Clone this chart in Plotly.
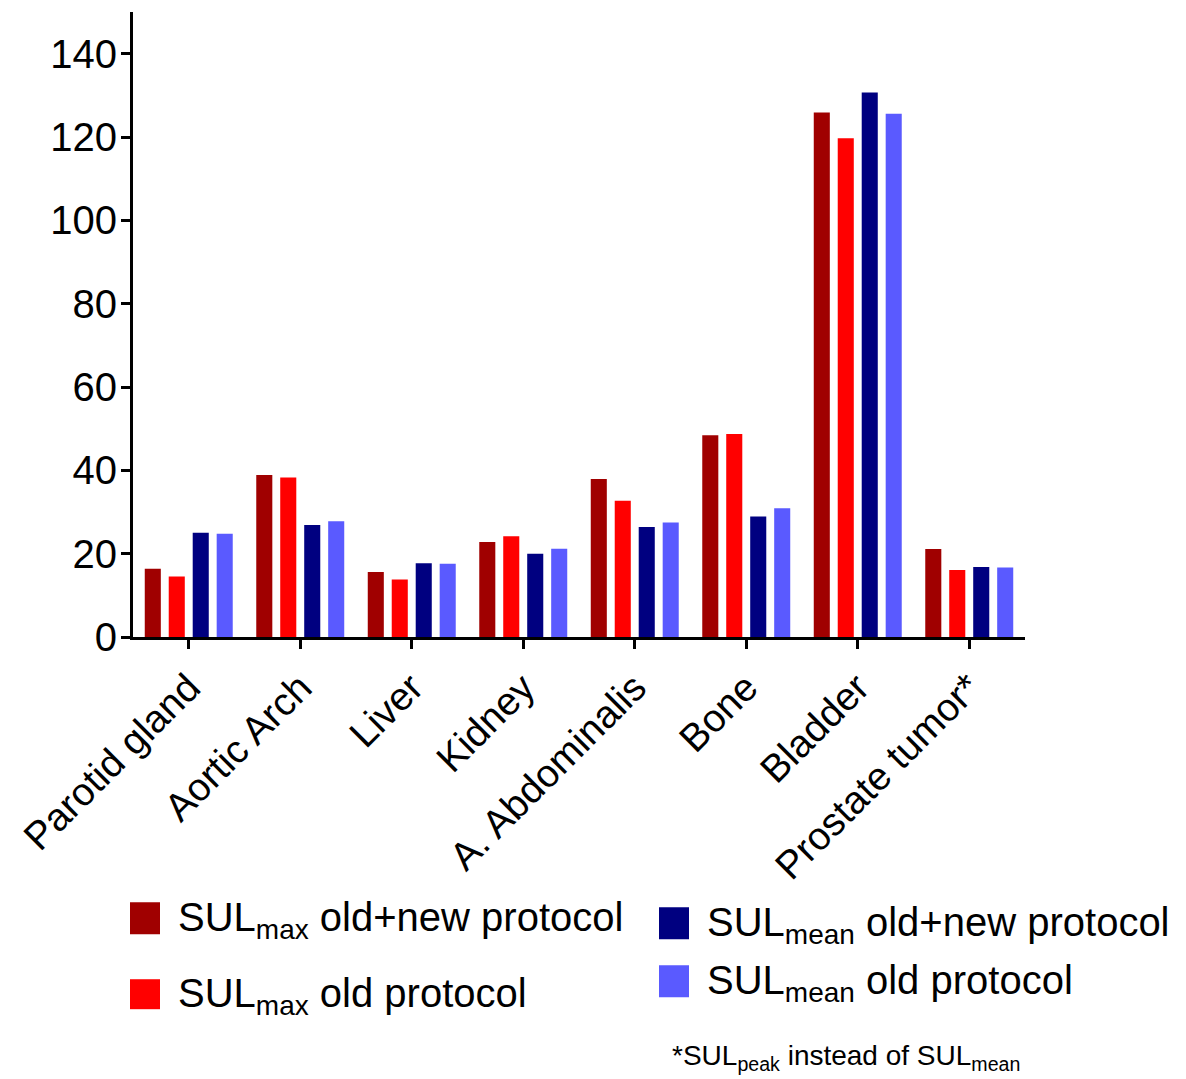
import plotly.graph_objects as go

categories = ["Parotid gland", "Aortic Arch", "Liver", "Kidney",
              "A. Abdominalis", "Bone", "Bladder", "Prostate tumor*"]
sulmax_oldnew = [16.4, 38.9, 15.6, 22.8, 37.9, 48.4, 125.9, 21.1]
sulmax_old = [14.5, 38.3, 13.8, 24.2, 32.7, 48.7, 119.7, 16.1]
sulmean_oldnew = [25.0, 26.9, 17.7, 20.0, 26.4, 28.9, 130.7, 16.8]
sulmean_old = [24.8, 27.8, 17.6, 21.2, 27.5, 30.9, 125.6, 16.7]

series_names = ["SUL<sub>max</sub> old+new protocol", "SUL<sub>max</sub> old protocol",
                "SUL<sub>mean</sub> old+new protocol", "SUL<sub>mean</sub> old protocol"]
series_values = [sulmax_oldnew, sulmax_old, sulmean_oldnew, sulmean_old]
colors = ["#A00000", "#FF0000", "#000080", "#5A5AFF"]
y_ticks = [0, 20, 40, 60, 80, 100, 120, 140]
footnote = "*SUL<sub>peak</sub> instead of SUL<sub>mean</sub>"

FONT = "Liberation Sans, Arial, sans-serif"
OFF = 8  # page body margin
W, H = 1186 - OFF, 1079 - OFF
L, R, T, B = 133 - OFF, 1025 - OFF, 12 - OFF, 637.5 - OFF

fig = go.Figure()
for name, vals, col in zip(series_names, series_values, colors):
    fig.add_trace(go.Bar(x=categories, y=vals, name=name, marker_color=col,
                         marker_line_width=0, showlegend=False))

def px2paper(x, y):
    x -= OFF
    y -= OFF
    return (x - L) / (R - L), (B - y) / (B - T)

shapes = []
annotations = []
legend_items = [
    (130, 903, 935, 176, 0),
    (130, 980, 1010, 176, 1),
    (659, 908, 940, 705, 2),
    (659, 966, 998, 705, 3),
]
for sx, sy0, sy1, tx, i in legend_items:
    x0, y0 = px2paper(sx, sy1)
    x1, y1 = px2paper(sx + 30, sy0)
    shapes.append(dict(type="rect", xref="paper", yref="paper", x0=x0, x1=x1, y0=y0, y1=y1,
                       fillcolor=colors[i], line=dict(width=0)))
    ax, ay = px2paper(tx, (sy0 + sy1) / 2 + 2)
    annotations.append(dict(xref="paper", yref="paper", x=ax, y=ay, xanchor="left",
                            yanchor="middle", showarrow=False, text=series_names[i],
                            font=dict(family=FONT, size=40, color="black")))
fx, fy = px2paper(670, 1058)
annotations.append(dict(xref="paper", yref="paper", x=fx, y=fy, xanchor="left",
                        yanchor="middle", showarrow=False, text=footnote,
                        font=dict(family=FONT, size=28, color="black")))

fig.update_layout(
    width=W, height=H,
    margin=dict(l=L, r=W - R, t=T, b=H - B, pad=0),
    plot_bgcolor="white", paper_bgcolor="white",
    barmode="group", bargap=0.14, bargroupgap=0.33,
    font=dict(family=FONT, color="black"),
    shapes=shapes, annotations=annotations,
    xaxis=dict(showline=True, linecolor="black", linewidth=3, ticks="outside",
               ticklen=9, tickwidth=3, tickcolor="black", tickangle=-45,
               tickfont=dict(family=FONT, size=39, color="black"),
               showgrid=False, zeroline=False),
    yaxis=dict(range=[0, 150], showline=True, linecolor="black", linewidth=3,
               ticks="outside", ticklen=9, tickwidth=3, tickcolor="black",
               tickvals=y_ticks, ticktext=[str(v) for v in y_ticks],
               ticklabelstandoff=-4,
               tickfont=dict(family=FONT, size=40, color="black"),
               showgrid=False, zeroline=False),
)

fig.write_html("out.html")
